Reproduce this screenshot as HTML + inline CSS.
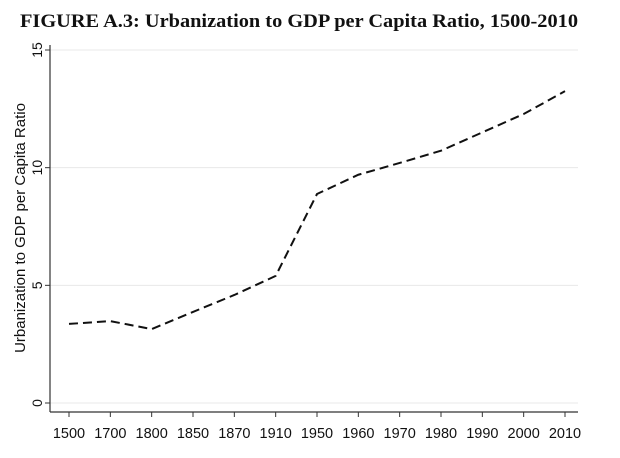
<!DOCTYPE html>
<html><head><meta charset="utf-8"><style>
body{margin:0;background:#fff;width:620px;height:453px;overflow:hidden}
text{font-family:"Liberation Sans",Arial,sans-serif}
</style></head><body>
<svg id="chart" width="620" height="453">
<text x="20" y="27" font-size="19" font-weight="bold" fill="#111" textLength="558" lengthAdjust="spacingAndGlyphs" style="font-family:'Liberation Serif',serif">FIGURE A.3: Urbanization to GDP per Capita Ratio, 1500-2010</text>
<text transform="translate(25,228) rotate(-90)" text-anchor="middle" font-size="15" fill="#111">Urbanization to GDP per Capita Ratio</text>
<g id="grid"></g><g id="axes"></g><path id="line" fill="none" stroke="#111" stroke-width="2" stroke-dasharray="9,5"/>
</svg>
<script>
const categories=["1500","1700","1800","1850","1870","1910","1950","1960","1970","1980","1990","2000","2010"];
const values=[3.36,3.48,3.14,3.87,4.59,5.4,8.88,9.7,10.2,10.72,11.5,12.28,13.25];
const yTicks=[0,5,10,15];
const ns="http://www.w3.org/2000/svg";
const x0=69,x1=565,yZero=403,yTop=50,axL=50,axB=412;
const xs=i=>x0+(x1-x0)*i/(categories.length-1);
const ys=v=>yZero-(yZero-yTop)*v/15;
function mk(tag,attrs,parent){const e=document.createElementNS(ns,tag);for(const k in attrs)e.setAttribute(k,attrs[k]);parent.appendChild(e);return e;}
const grid=document.getElementById('grid'),axes=document.getElementById('axes');
yTicks.forEach(t=>{
 const g=mk('line',{x1:axL,x2:578,y1:ys(t),y2:ys(t),stroke:'#e8e8e8','stroke-width':1},grid);
 
 
 const tk=mk('line',{x1:axL-5,x2:axL,y1:ys(t),y2:ys(t),stroke:'#333'},axes);
 
 
 const lb=mk('text',{transform:`translate(${axL-8},${ys(t)}) rotate(-90)`,'text-anchor':'middle','font-size':14,fill:'#111'},axes);
 lb.textContent=t;
 
 
});
const ya=mk('line',{x1:axL,x2:axL,y1:45,y2:axB,stroke:'#333','stroke-width':1.2},axes);


const xa=mk('line',{x1:axL,x2:578,y1:axB,y2:axB,stroke:'#333','stroke-width':1.2},axes);


categories.forEach((c,i)=>{
 const tk=mk('line',{x1:xs(i),x2:xs(i),y1:axB,y2:axB+5,stroke:'#333'},axes);
 
 
 const lb=mk('text',{x:xs(i),y:axB+26,'text-anchor':'middle','font-size':14.5,fill:'#111'},axes);
 lb.textContent=c;
 
 
});
document.getElementById('line').setAttribute('d',values.map((v,i)=>(i?'L':'M')+xs(i)+','+ys(v)).join(''));
</script>
</body></html>
